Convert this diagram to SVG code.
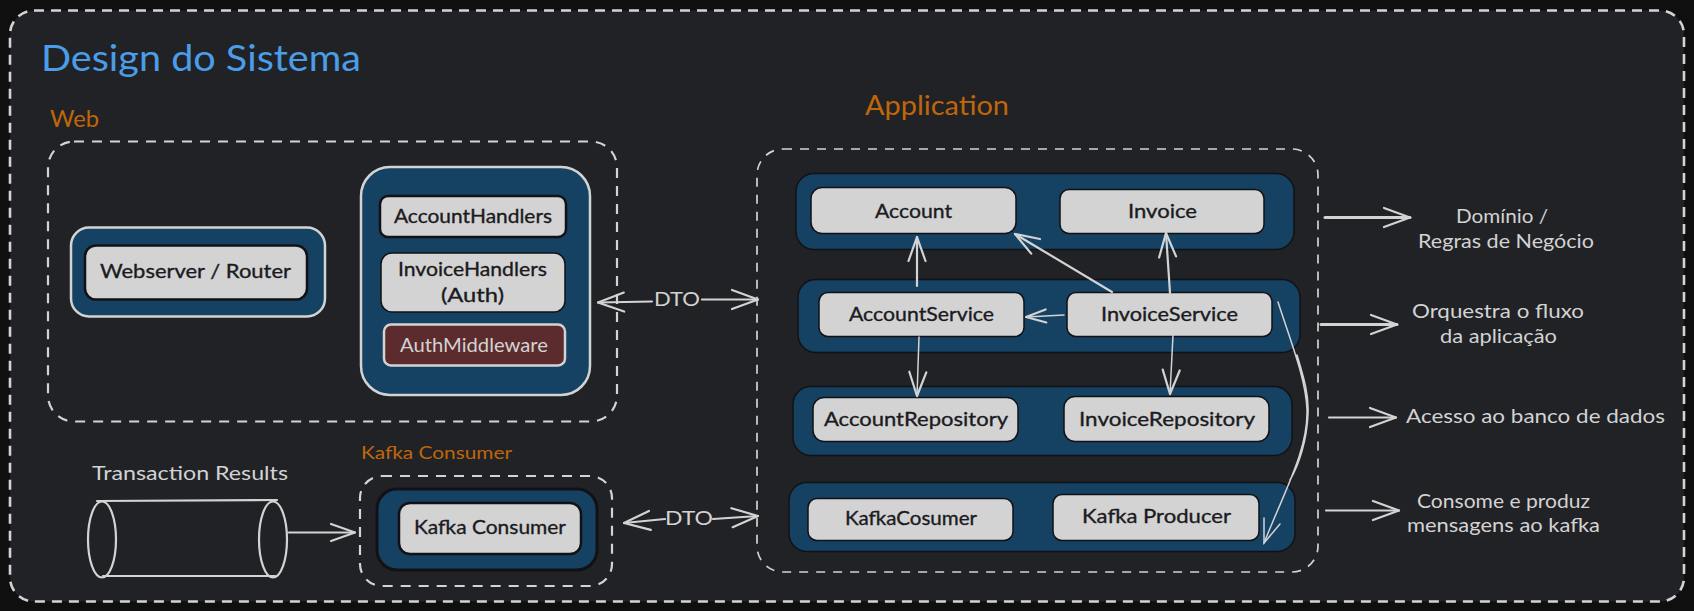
<svg xmlns="http://www.w3.org/2000/svg" width="1694" height="611" viewBox="0 0 1694 611">
<style>
text{font-family:"Lato","Open Sans","Liberation Sans",sans-serif;text-anchor:start}
.dark{font-size:20px;fill:#1b1b1f;stroke:#1b1b1f;stroke-width:.35}
.light{font-size:19px;fill:#d3d3d3}
.orange{fill:#c0660a}
.blue{fill:#4a9de6}
.box{fill:#d3d3d3;stroke:#121216;stroke-width:1.5}
.boxd{fill:#d3d3d3;stroke:#121216;stroke-width:2.5}
.row{fill:#154163;stroke:#121216;stroke-width:1.5}
.pan{fill:#154163;stroke:#d3d3d3;stroke-width:2.5}
.dash{fill:none;stroke:#d3d3d3;stroke-width:2.2;stroke-dasharray:10 8}
.con{fill:none;stroke:#d3d3d3;stroke-width:2.2;stroke-linecap:round}
.thin{stroke-width:1.5}
.thick{stroke-width:3}
.mh{fill:none;stroke:#d3d3d3;stroke-width:2.2;stroke-linecap:round;stroke-linejoin:round}
</style>
<defs>
<marker id="al" markerUnits="userSpaceOnUse" markerWidth="32" markerHeight="26" refX="28" refY="13" orient="auto" overflow="visible"><path class="mh" d="M2 3.5L28 13L2 22.5"/></marker>
<marker id="am" markerUnits="userSpaceOnUse" markerWidth="30" markerHeight="24" refX="26" refY="12" orient="auto" overflow="visible"><path class="mh" d="M2 3.5L26 12L2 20.5"/></marker>
<marker id="as" markerUnits="userSpaceOnUse" markerWidth="26" markerHeight="20" refX="22" refY="10" orient="auto" overflow="visible"><path class="mh" d="M2 3.5L22 10L2 16.5" stroke-width="1.5"/></marker>
</defs>
<rect width="1694" height="611" fill="#0f0f10"/>
<g id="frame">
<rect x="10" y="10.5" width="1674" height="591" rx="24" fill="#212226"/>
<rect x="10" y="10.5" width="1674" height="591" rx="24" class="dash" style="stroke-width:2.6;stroke-dasharray:10 7"/>
<text x="41" y="71" font-size="36" class="blue" textLength="320" lengthAdjust="spacingAndGlyphs">Design do Sistema</text>
</g>
<g id="web">
<rect x="48" y="141.5" width="569" height="280" rx="26" class="dash"/>
<text x="50" y="127" font-size="24" class="orange" textLength="49" lengthAdjust="spacingAndGlyphs">Web</text>
</g>
<g id="webserver-panel"><rect x="71" y="227.5" width="254" height="89" rx="18" class="pan"/></g>
<g id="webserver"><rect x="85" y="245.5" width="222" height="54" rx="11" class="boxd"/><text x="100" y="278" class="dark" textLength="191" lengthAdjust="spacingAndGlyphs">Webserver / Router</text></g>
<g id="handlers-panel"><rect x="361" y="167" width="229" height="228" rx="29" class="pan"/></g>
<g id="account-handlers"><rect x="380" y="196" width="186" height="41" rx="8" class="boxd"/><text x="394" y="223" class="dark" textLength="158" lengthAdjust="spacingAndGlyphs">AccountHandlers</text></g>
<g id="invoice-handlers"><rect x="381" y="253" width="184" height="59" rx="11" class="box"/><text x="398" y="276" class="dark" textLength="149" lengthAdjust="spacingAndGlyphs">InvoiceHandlers</text><text x="441" y="302" class="dark" textLength="63" lengthAdjust="spacingAndGlyphs">(Auth)</text></g>
<g id="auth-middleware"><rect x="384" y="324.5" width="181" height="41" rx="7" fill="#5c2b2d" stroke="#d3d3d3" stroke-width="2.5"/><text x="400" y="352" font-size="20" fill="#d3d3d3" textLength="148" lengthAdjust="spacingAndGlyphs">AuthMiddleware</text></g>

<g id="transaction-results">
<text x="92" y="480" class="light" textLength="196" lengthAdjust="spacingAndGlyphs">Transaction Results</text>
<path class="con" d="M97 501L277 500M103 576L275 576"/>
<ellipse cx="102" cy="539.5" rx="14" ry="38" class="con"/>
<ellipse cx="273" cy="539.5" rx="14" ry="38" class="con"/>
</g>
<g id="kafka-consumer-group">
<rect x="360" y="476" width="252" height="110" rx="22" class="dash"/>
<text x="361" y="459" font-size="18" class="orange" textLength="151" lengthAdjust="spacingAndGlyphs">Kafka Consumer</text>
</g>
<g id="kafka-panel"><rect x="377" y="489" width="220" height="81" rx="20" fill="#154163" stroke="#121216" stroke-width="3"/></g>
<g id="kafka-consumer"><rect x="399" y="503" width="182" height="51" rx="11" class="boxd"/><text x="414" y="534" class="dark" textLength="152" lengthAdjust="spacingAndGlyphs">Kafka Consumer</text></g>

<g id="application">
<rect x="757" y="149" width="561" height="423" rx="26" class="dash" style="stroke-width:1.7;stroke-dasharray:9 8"/>
<text x="865" y="115" font-size="27" class="orange" textLength="144" lengthAdjust="spacingAndGlyphs">Application</text>
</g>
<g id="domain-row"><rect x="796" y="173.5" width="498" height="76" rx="18" class="row"/></g>
<g id="account"><rect x="811" y="187.5" width="205" height="46" rx="11" class="box"/><text x="875" y="218" class="dark" textLength="77" lengthAdjust="spacingAndGlyphs">Account</text></g>
<g id="invoice"><rect x="1060" y="189.5" width="204" height="44" rx="9" class="box"/><text x="1128" y="218" class="dark" textLength="69" lengthAdjust="spacingAndGlyphs">Invoice</text></g>
<g id="service-row"><rect x="798" y="279.5" width="502" height="73" rx="18" class="row"/></g>
<g id="account-service"><rect x="819" y="292.5" width="205" height="44" rx="9" class="box"/><text x="849" y="321" class="dark" textLength="145" lengthAdjust="spacingAndGlyphs">AccountService</text></g>
<g id="invoice-service"><rect x="1067" y="292.5" width="205" height="44" rx="9" class="box"/><text x="1101" y="321" class="dark" textLength="137" lengthAdjust="spacingAndGlyphs">InvoiceService</text></g>
<g id="repository-row"><rect x="793" y="386.5" width="499" height="69" rx="18" class="row"/></g>
<g id="account-repository"><rect x="813" y="397.5" width="205" height="44" rx="11" class="box"/><text x="824" y="426" class="dark" textLength="184" lengthAdjust="spacingAndGlyphs">AccountRepository</text></g>
<g id="invoice-repository"><rect x="1064" y="396.5" width="205" height="45" rx="11" class="box"/><text x="1079" y="426" class="dark" textLength="176" lengthAdjust="spacingAndGlyphs">InvoiceRepository</text></g>
<g id="kafka-row"><rect x="789" y="482.5" width="506" height="69" rx="18" class="row"/></g>
<g id="kafka-cosumer"><rect x="808" y="498.5" width="205" height="42" rx="9" class="box"/><text x="845" y="525" class="dark" textLength="132" lengthAdjust="spacingAndGlyphs">KafkaCosumer</text></g>
<g id="kafka-producer"><rect x="1053" y="494.5" width="206" height="46" rx="9" class="box"/><text x="1082" y="523" class="dark" textLength="149" lengthAdjust="spacingAndGlyphs">Kafka Producer</text></g>

<g id="notes">
<text x="1456" y="222.5" class="light" textLength="92" lengthAdjust="spacingAndGlyphs">Domínio /</text>
<text x="1418" y="247.5" class="light" textLength="176" lengthAdjust="spacingAndGlyphs">Regras de Negócio</text>
<text x="1412" y="318" class="light" textLength="172" lengthAdjust="spacingAndGlyphs">Orquestra o fluxo</text>
<text x="1440" y="343" class="light" textLength="117" lengthAdjust="spacingAndGlyphs">da aplicação</text>
<text x="1406" y="423" class="light" textLength="259" lengthAdjust="spacingAndGlyphs">Acesso ao banco de dados</text>
<text x="1417" y="508" class="light" textLength="173" lengthAdjust="spacingAndGlyphs">Consome e produz</text>
<text x="1407" y="532" class="light" textLength="193" lengthAdjust="spacingAndGlyphs">mensagens ao kafka</text>
<text x="654" y="306" class="light" textLength="46" lengthAdjust="spacingAndGlyphs">DTO</text>
<text x="665" y="525" class="light" textLength="48" lengthAdjust="spacingAndGlyphs">DTO</text>
</g>

<g id="connectors">
<path class="con" d="M289 532.5L355 532.5" marker-end="url(#am)"/>
<path class="con" d="M652 301.5L598 302.5" marker-end="url(#al)"/>
<path class="con" d="M702 299.5L758 299.5" marker-end="url(#al)"/>
<path class="con" d="M665 519L624 523" marker-end="url(#al)"/>
<path class="con" d="M713 519L758 516" marker-end="url(#al)"/>
<path class="con" d="M917 286L917 237" marker-end="url(#am)"/>
<path class="con" d="M1112 292L1015 234" marker-end="url(#am)"/>
<path class="con" d="M1170 293L1166 233" marker-end="url(#am)"/>
<path class="con thin" d="M1064 315L1026 317" marker-end="url(#as)"/>
<path class="con thin" d="M919 337L917 396" marker-end="url(#am)"/>
<path class="con thin" d="M1173 335L1170 394" marker-end="url(#am)"/>
<path class="con thin" d="M1278 302C1292 345 1306 380 1307 410C1308 450 1285 490 1264 543M1297 355C1304 378 1309 395 1308 414C1307 440 1299 465 1290 480"/>
<path class="con thin" d="M1264 518L1264 543L1280 524"/>
<path class="con thick" d="M1325 217.5L1410 217.5" marker-end="url(#al)"/>
<path class="con thick" d="M1321 324.5L1397 324.5" marker-end="url(#al)"/>
<path class="con" d="M1329 417.5L1396 417.5" marker-end="url(#al)"/>
<path class="con" d="M1326 510.5L1399 510.5" marker-end="url(#al)"/>
</g>
</svg>
